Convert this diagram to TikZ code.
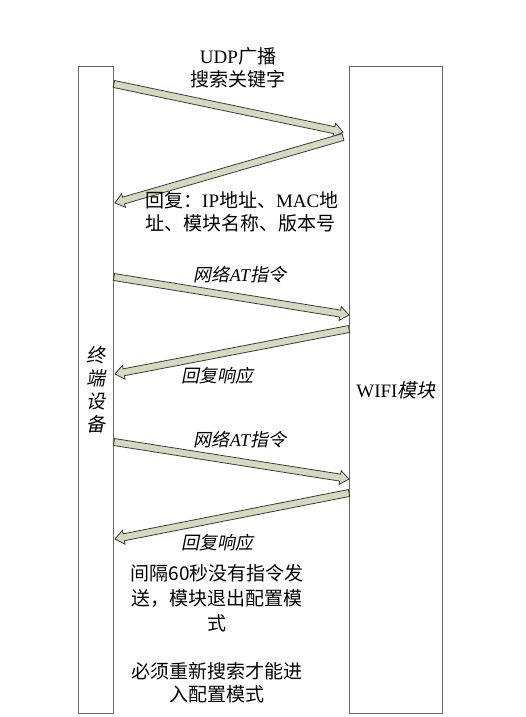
\documentclass[tikz,border=0pt]{standalone}
\usepackage{fontspec}
\setmainfont{Liberation Serif}
\newfontfamily\cjk{Noto Sans CJK SC}
\newfontfamily\cjkit[FakeSlant=0.2]{Noto Sans CJK SC}
\usepackage{xcolor}
\usetikzlibrary{calc, positioning}

\definecolor{arrfill}{RGB}{214,217,192}
\definecolor{arrline}{RGB}{58,58,58}
\definecolor{barline}{RGB}{105,105,105}

% fat hollow arrow from #1 to #2
\newcommand{\fatarrow}[2]{%
  \coordinate (fah) at ($(#2)!9pt!(#1)$);
  \filldraw[fat] ($(#1)!3.5pt!90:(#2)$) -- ($(fah)!3.5pt!90:(#2)$)
    -- ($(fah)!7pt!90:(#2)$) -- (#2) -- ($(fah)!7pt!-90:(#2)$)
    -- ($(fah)!3.5pt!-90:(#2)$) -- ($(#1)!3.5pt!-90:(#2)$) -- cycle;}

\begin{document}
\begin{tikzpicture}[x=1pt, y=-1pt,
  bar/.style={draw=barline, line width=0.9pt, inner sep=0pt, anchor=north west,
    minimum height=647pt, align=center},
  fat/.style={fill=arrfill, draw=arrline, line width=0.8pt, line join=miter},
  txt/.style={font=\fontsize{19}{23}\selectfont\cjk, align=center, inner sep=0pt},
  msg/.style={font=\fontsize{18}{22}\selectfont\cjkit, inner sep=0pt}]
\fill[white] (0,0) rectangle (526,717);

\node[bar, minimum width=35pt, font=\fontsize{19}{23}\selectfont\cjkit] (term) at (78,66)
  {终\\端\\设\\备};
\node[bar, minimum width=93pt, font=\fontsize{19}{23}\selectfont] (wifi) at (349,66)
  {WIFI{\cjkit 模块}};

% arrow ends
\coordinate (s1) at (term.east |- 0,84);
\coordinate (e1) at ($(wifi.west |- 0,132)+(-6,0)$);
\coordinate (s2) at ($(wifi.west |- 0,137)+(-6,0)$);
\coordinate (e2) at ($(term.east |- 0,203)+(1,0)$);
\coordinate (s3) at (term.east |- 0,277);
\coordinate (e3) at (wifi.west |- 0,315);
\coordinate (s4) at (wifi.west |- 0,329);
\coordinate (e4) at ($(term.east |- 0,374)+(1,0)$);
\coordinate (s5) at (term.east |- 0,442);
\coordinate (e5) at (wifi.west |- 0,479);
\coordinate (s6) at (wifi.west |- 0,493);
\coordinate (e6) at ($(term.east |- 0,539)+(1,0)$);

\fatarrow{s1}{e1}
\fatarrow{s2}{e2}
\fatarrow{s3}{e3}
\fatarrow{s4}{e4}
\fatarrow{s5}{e5}
\fatarrow{s6}{e6}

\node[txt] (search) at (238,68) {{\rmfamily UDP}广播\\搜索关键字};
\node[txt, align=left, anchor=west] (reply) at (145,212)
  {回复：{\rmfamily IP}地址、{\rmfamily MAC}地\\址、模块名称、版本号};
\node[msg] (cmd1) at (240,275) {网络{\rmfamily\itshape AT}指令};
\node[msg] (resp1) at (217,376) {回复响应};
\node[msg] (cmd2) at (240,440) {网络{\rmfamily\itshape AT}指令};
\node[msg] (resp2) at (217,543) {回复响应};
\node[txt, font=\fontsize{19}{25}\selectfont\cjk] (timeout) at (217,598)
  {间隔60秒没有指令发\\送，模块退出配置模\\式};
\node[txt] (again) at (217,683) {必须重新搜索才能进\\入配置模式};
\end{tikzpicture}
\end{document}
